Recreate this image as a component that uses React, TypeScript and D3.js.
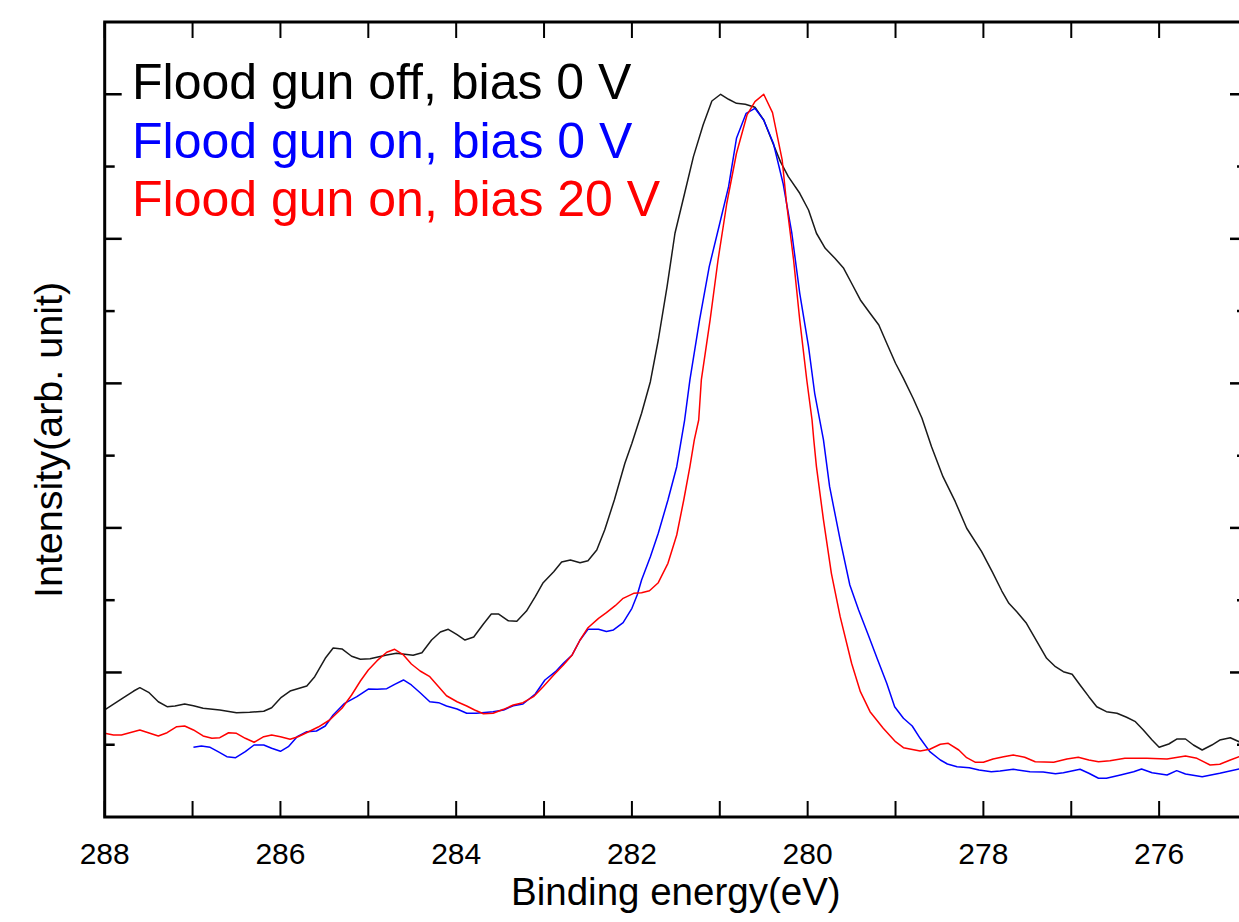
import React from "react";
import * as d3 from "d3";

// Binding energy (eV) / intensity (arb. unit) pairs
const offEnergy = [288.0, 287.79, 287.67, 287.6, 287.5, 287.39, 287.29, 287.2, 287.09, 286.99, 286.88, 286.69, 286.5, 286.35, 286.19, 286.1, 285.99, 285.89, 285.7, 285.61, 285.49, 285.4, 285.3, 285.19, 285.09, 284.98, 284.79, 284.68, 284.49, 284.39, 284.28, 284.18, 284.09, 283.99, 283.9, 283.8, 283.69, 283.6, 283.52, 283.41, 283.31, 283.2, 283.1, 283.01, 282.89, 282.8, 282.7, 282.59, 282.5, 282.4, 282.31, 282.2, 282.08, 282.0, 281.89, 281.79, 281.7, 281.6, 281.51, 281.4, 281.3, 281.19, 281.09, 280.99, 280.9, 280.81, 280.71, 280.6, 280.5, 280.41, 280.31, 280.22, 280.09, 279.99, 279.9, 279.8, 279.69, 279.59, 279.5, 279.4, 279.29, 279.19, 279.1, 279.0, 278.91, 278.8, 278.7, 278.59, 278.46, 278.32, 278.19, 278.02, 277.9, 277.79, 277.71, 277.62, 277.51, 277.39, 277.28, 277.18, 277.09, 276.99, 276.9, 276.8, 276.71, 276.6, 276.48, 276.37, 276.27, 276.18, 276.08, 276.0, 275.89, 275.8, 275.7, 275.61, 275.51, 275.4, 275.31, 275.19, 275.09, 275.0];
const offIntensity = [1.481, 1.647, 1.743, 1.789, 1.725, 1.595, 1.526, 1.536, 1.564, 1.54, 1.504, 1.481, 1.443, 1.449, 1.463, 1.512, 1.656, 1.743, 1.813, 1.941, 2.196, 2.338, 2.325, 2.224, 2.182, 2.19, 2.242, 2.265, 2.237, 2.273, 2.449, 2.56, 2.597, 2.523, 2.449, 2.491, 2.671, 2.809, 2.809, 2.716, 2.708, 2.85, 3.048, 3.242, 3.394, 3.528, 3.556, 3.519, 3.547, 3.694, 3.971, 4.386, 4.894, 5.171, 5.586, 6.023, 6.6, 7.338, 8.077, 8.63, 9.137, 9.575, 9.907, 10.0, 9.931, 9.875, 9.862, 9.82, 9.644, 9.368, 9.068, 8.86, 8.63, 8.399, 8.077, 7.869, 7.731, 7.592, 7.385, 7.154, 6.97, 6.808, 6.555, 6.278, 6.07, 5.794, 5.521, 5.124, 4.709, 4.363, 3.995, 3.671, 3.394, 3.127, 2.957, 2.841, 2.68, 2.426, 2.196, 2.08, 2.011, 1.975, 1.827, 1.665, 1.526, 1.457, 1.435, 1.38, 1.319, 1.204, 1.065, 0.964, 1.01, 1.079, 1.079, 0.996, 0.927, 0.996, 1.065, 1.097, 1.042, 1.04];

const on0Energy = [286.99, 286.9, 286.8, 286.71, 286.61, 286.51, 286.4, 286.3, 286.19, 286.1, 286.0, 285.91, 285.81, 285.7, 285.59, 285.49, 285.4, 285.27, 285.13, 285.0, 284.9, 284.79, 284.7, 284.6, 284.51, 284.41, 284.3, 284.2, 284.11, 283.99, 283.88, 283.77, 283.58, 283.46, 283.35, 283.24, 283.1, 282.99, 282.87, 282.78, 282.68, 282.59, 282.5, 282.38, 282.29, 282.21, 282.1, 282.0, 281.94, 281.89, 281.79, 281.7, 281.59, 281.49, 281.4, 281.34, 281.23, 281.12, 281.0, 280.9, 280.81, 280.7, 280.6, 280.5, 280.39, 280.28, 280.18, 280.09, 279.99, 279.92, 279.82, 279.75, 279.63, 279.52, 279.42, 279.31, 279.21, 279.1, 279.01, 278.91, 278.81, 278.72, 278.61, 278.49, 278.41, 278.3, 278.16, 278.05, 277.91, 277.81, 277.66, 277.47, 277.32, 277.18, 277.09, 276.9, 276.8, 276.69, 276.6, 276.44, 276.29, 276.2, 276.08, 275.91, 275.8, 275.7, 275.51, 275.31, 275.09, 275.0];
const on0Intensity = [0.964, 0.982, 0.964, 0.904, 0.834, 0.821, 0.904, 0.996, 0.996, 0.951, 0.909, 0.973, 1.111, 1.18, 1.19, 1.259, 1.411, 1.573, 1.665, 1.771, 1.767, 1.775, 1.836, 1.896, 1.827, 1.72, 1.595, 1.582, 1.536, 1.494, 1.435, 1.435, 1.457, 1.481, 1.54, 1.564, 1.702, 1.896, 2.011, 2.127, 2.242, 2.449, 2.597, 2.597, 2.567, 2.588, 2.689, 2.888, 3.072, 3.279, 3.602, 3.926, 4.386, 4.847, 5.493, 6.047, 6.877, 7.615, 8.215, 8.722, 9.391, 9.737, 9.806, 9.644, 9.322, 8.769, 8.077, 7.246, 6.508, 5.863, 5.217, 4.57, 3.833, 3.21, 2.864, 2.518, 2.196, 1.85, 1.526, 1.366, 1.259, 1.089, 0.904, 0.789, 0.733, 0.696, 0.682, 0.65, 0.627, 0.637, 0.66, 0.627, 0.623, 0.599, 0.613, 0.66, 0.605, 0.536, 0.536, 0.581, 0.627, 0.664, 0.613, 0.581, 0.641, 0.595, 0.558, 0.605, 0.664, 0.685];

const on20Energy = [288.0, 287.9, 287.81, 287.6, 287.39, 287.29, 287.18, 287.09, 286.99, 286.88, 286.78, 286.69, 286.59, 286.5, 286.4, 286.3, 286.19, 286.1, 286.0, 285.89, 285.8, 285.68, 285.57, 285.44, 285.3, 285.19, 285.09, 285.0, 284.9, 284.79, 284.7, 284.6, 284.51, 284.41, 284.3, 284.2, 284.11, 283.99, 283.88, 283.79, 283.69, 283.58, 283.46, 283.35, 283.24, 283.12, 283.01, 282.89, 282.78, 282.68, 282.59, 282.5, 282.38, 282.29, 282.19, 282.1, 281.98, 281.89, 281.8, 281.7, 281.59, 281.49, 281.41, 281.34, 281.29, 281.24, 281.21, 281.11, 281.02, 280.92, 280.81, 280.69, 280.6, 280.5, 280.4, 280.29, 280.24, 280.16, 280.09, 280.01, 279.95, 279.93, 279.9, 279.82, 279.73, 279.63, 279.5, 279.4, 279.29, 279.14, 279.0, 278.91, 278.72, 278.61, 278.49, 278.4, 278.28, 278.19, 278.09, 278.0, 277.89, 277.77, 277.66, 277.53, 277.41, 277.2, 277.05, 276.92, 276.8, 276.69, 276.56, 276.39, 276.14, 275.91, 275.7, 275.57, 275.42, 275.31, 275.19, 275.09, 275.0];
const on20Intensity = [1.158, 1.135, 1.135, 1.204, 1.121, 1.166, 1.249, 1.259, 1.204, 1.121, 1.089, 1.097, 1.166, 1.158, 1.089, 1.034, 1.111, 1.135, 1.111, 1.075, 1.111, 1.18, 1.245, 1.342, 1.504, 1.688, 1.882, 2.034, 2.163, 2.279, 2.32, 2.242, 2.117, 2.02, 1.941, 1.803, 1.678, 1.595, 1.536, 1.481, 1.429, 1.435, 1.49, 1.55, 1.582, 1.665, 1.803, 1.965, 2.103, 2.242, 2.449, 2.619, 2.749, 2.827, 2.924, 3.026, 3.095, 3.104, 3.131, 3.242, 3.51, 3.902, 4.386, 4.847, 5.217, 5.493, 6.047, 6.877, 7.707, 8.492, 9.184, 9.714, 9.898, 10.0, 9.746, 9.091, 8.492, 7.707, 6.877, 6.047, 5.493, 5.217, 4.847, 4.11, 3.372, 2.772, 2.127, 1.734, 1.457, 1.227, 1.042, 0.959, 0.913, 0.937, 1.006, 1.02, 0.927, 0.821, 0.757, 0.757, 0.803, 0.834, 0.858, 0.826, 0.765, 0.757, 0.803, 0.826, 0.789, 0.765, 0.779, 0.812, 0.812, 0.803, 0.844, 0.812, 0.72, 0.729, 0.789, 0.834, 0.87];

const seriesNames = ["Flood gun off, bias 0 V", "Flood gun on, bias 0 V", "Flood gun on, bias 20 V"];
const seriesColors = ["#1a1a1a", "#0000ff", "#ff0000"];
const legendColors = ["#000000", "#0000ff", "#ff0000"];
const xTickLabels = [288, 286, 284, 282, 280, 278, 276];
const xLabel = "Binding energy(eV)";
const yLabel = "Intensity(arb. unit)";

const W = 1239;
const H = 922;
const left = 104.7;
const right = 1247;
const top = 22;
const bottom = 817;

export default function App() {
  const x = d3.scaleLinear().domain([288, 275]).range([left, right]);
  const y = d3.scaleLinear().domain([0, 11]).range([bottom, top]);

  const series = [
    offEnergy.map((e, i) => [e, offIntensity[i]] as [number, number]),
    on0Energy.map((e, i) => [e, on0Intensity[i]] as [number, number]),
    on20Energy.map((e, i) => [e, on20Intensity[i]] as [number, number]),
  ];
  const line = d3
    .line<[number, number]>()
    .x((d) => x(d[0]))
    .y((d) => y(d[1]));

  const xTicks = d3.range(288, 274.5, -1);
  const yTicks = d3.range(1, 11, 1);
  const font = "'Liberation Sans', Arial, sans-serif";

  return (
    <svg
      width={W}
      height={H}
      style={{ position: "absolute", left: 0, top: 0, background: "#fff" }}
    >
      <defs>
        <clipPath id="plot">
          <rect x={left} y={top} width={right - left} height={bottom - top} />
        </clipPath>
      </defs>
      <g clipPath="url(#plot)">
        {series.map((s, i) => (
          <path
            key={i}
            d={line(s) || ""}
            fill="none"
            stroke={seriesColors[i]}
            strokeWidth={1.5}
            strokeLinejoin="round"
          />
        ))}
      </g>
      {/* frame */}
      <rect
        x={left}
        y={top}
        width={right - left}
        height={bottom - top}
        fill="none"
        stroke="#000"
        strokeWidth={3}
      />
      {/* x ticks */}
      {xTicks.map((t) => (
        <g key={"xt" + t}>
          <line x1={x(t)} x2={x(t)} y1={bottom} y2={bottom - 16} stroke="#000" strokeWidth={2} />
          <line x1={x(t)} x2={x(t)} y1={top} y2={top + 16} stroke="#000" strokeWidth={2} />
        </g>
      ))}
      {/* y ticks */}
      {yTicks.map((t) => {
        const len = t % 2 === 0 ? 17 : 10;
        return (
          <g key={"yt" + t}>
            <line x1={left} x2={left + len} y1={y(t)} y2={y(t)} stroke="#000" strokeWidth={2.5} />
            <line x1={right} x2={right - len} y1={y(t)} y2={y(t)} stroke="#000" strokeWidth={2.5} />
          </g>
        );
      })}
      {/* x tick labels */}
      {xTickLabels.map((t) => (
        <text
          key={"xl" + t}
          x={x(t)}
          y={864}
          textAnchor="middle"
          fontFamily={font}
          fontSize={30}
          fill="#000"
        >
          {t}
        </text>
      ))}
      <text
        x={(left + right) / 2}
        y={905}
        textAnchor="middle"
        fontFamily={font}
        fontSize={38.5}
        fill="#000"
      >
        {xLabel}
      </text>
      <text
        transform={`translate(62, ${440}) rotate(-90)`}
        textAnchor="middle"
        fontFamily={font}
        fontSize={39.5}
        fill="#000"
      >
        {yLabel}
      </text>
      {/* legend */}
      {seriesNames.map((n, i) => (
        <text
          key={n}
          x={132}
          y={99 + i * 58.5}
          fontFamily={font}
          fontSize={50}
          fill={legendColors[i]}
        >
          {n}
        </text>
      ))}
    </svg>
  );
}
